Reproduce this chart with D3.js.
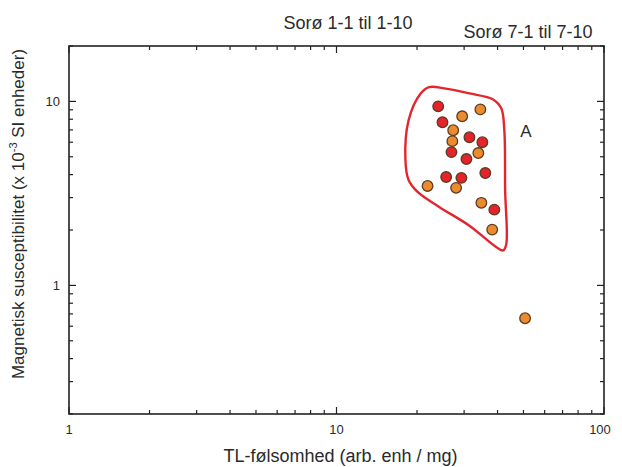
<!DOCTYPE html>
<html>
<head>
<meta charset="utf-8">
<script src="https://cdn.jsdelivr.net/npm/d3@7"></script>
<style>
  body { margin: 0; background: #fff; }
  text { font-family: "Liberation Sans", Arial, sans-serif; fill: #2a2a2a; }
</style>
</head>
<body>
<div id="chart"></div>
<script>
// data (TL sensitivity, magnetic susceptibility)
var seriesNames = ["Sorø 1-1 til 1-10", "Sorø 7-1 til 7-10"];
var redX = [24.0, 24.9, 31.4, 35.1, 26.9, 30.6, 25.7, 29.3, 36.0, 38.9];
var redY = [9.4, 7.7, 6.39, 6.0, 5.3, 4.86, 3.88, 3.84, 4.08, 2.58];
var orangeX = [34.5, 29.5, 27.3, 27.1, 33.9, 21.9, 28.0, 34.8, 38.2, 50.7];
var orangeY = [9.05, 8.3, 6.97, 6.08, 5.24, 3.47, 3.39, 2.81, 2.01, 0.663];
// outline of group A
var outlineX = [22.2, 25.3, 31.4, 38.5, 41.3, 42.4, 42.7, 43.1, 42.0, 39.9, 31.4, 24.2, 20.1, 18.6, 18.1, 18.6, 20.6];
var outlineY = [11.95, 11.76, 11.05, 10.25, 9.17, 6.97, 3.3, 1.67, 1.55, 1.6, 2.11, 2.67, 3.22, 3.74, 4.8, 7.89, 11.0];
var xTickLabels = [1, 10, 100];
var yTickLabels = [1, 10];

var W = 622, H = 467;
var margin = {left: 69, right: 18, top: 46, bottom: 53};

var svg = d3.select("#chart")
  .append("svg")
  .attr("width", W)
  .attr("height", H);

var x = d3.scaleLog()
  .domain([1, 100])
  .range([margin.left, W - margin.right]);

var y = d3.scaleLog()
  .domain([0.2, 20])
  .range([H - margin.bottom, margin.top]);

// tick values on log scale: every integer step in each decade
function logTicks(lo, hi) {
  var t = [];
  for (var d = 0.1; d <= 100; d *= 10) {
    for (var k = 1; k <= 9; k++) {
      var v = +(k * d).toPrecision(3);
      if (v >= lo - 1e-9 && v <= hi + 1e-9) t.push(v);
    }
  }
  return t;
}
var xTicks = logTicks(1, 100);
var yTicks = logTicks(0.2, 20);
function isMajor(v) { return Math.abs(Math.log10(v) - Math.round(Math.log10(v))) < 1e-6; }

var frame = svg.append("g").attr("class", "frame");

// ticks inward on all four sides
var x0 = x.range()[0], x1 = x.range()[1];
var y0 = y.range()[0], y1 = y.range()[1];

frame.selectAll(".xtb").data(xTicks).enter().append("line")
  .attr("x1", d => x(d)).attr("x2", d => x(d))
  .attr("y1", y0).attr("y2", d => y0 - (isMajor(d) ? 7 : 4));
frame.selectAll(".xtt").data(xTicks).enter().append("line")
  .attr("x1", d => x(d)).attr("x2", d => x(d))
  .attr("y1", y1).attr("y2", d => y1 + (isMajor(d) ? 7 : 4));
frame.selectAll(".ytl").data(yTicks).enter().append("line")
  .attr("y1", d => y(d)).attr("y2", d => y(d))
  .attr("x1", x0).attr("x2", d => x0 + (isMajor(d) ? 7 : 4));
frame.selectAll(".ytr").data(yTicks).enter().append("line")
  .attr("y1", d => y(d)).attr("y2", d => y(d))
  .attr("x1", x1).attr("x2", d => x1 - (isMajor(d) ? 7 : 4));
frame.selectAll("line")
  .attr("stroke", "#222")
  .attr("stroke-width", 1.2);

frame.append("rect")
  .attr("x", x0).attr("y", y1)
  .attr("width", x1 - x0).attr("height", y0 - y1)
  .attr("fill", "none")
  .attr("stroke", "#222")
  .attr("stroke-width", 1.6);

// tick labels
svg.selectAll(".xlab").data(xTickLabels).enter().append("text")
  .attr("x", d => x(d) + (d === 100 ? -4 : 0))
  .attr("y", y0 + 20)
  .attr("text-anchor", "middle")
  .attr("font-size", 13)
  .text(d => d);

svg.selectAll(".ylab").data(yTickLabels).enter().append("text")
  .attr("x", x0 - 9)
  .attr("y", d => y(d) + 5)
  .attr("text-anchor", "end")
  .attr("font-size", 13)
  .text(d => d);

// axis titles
svg.append("text")
  .attr("x", (x0 + x1) / 2 + 4)
  .attr("y", H - 5)
  .attr("text-anchor", "middle")
  .attr("font-size", 18)
  .text("TL-følsomhed (arb. enh / mg)");

var yt = svg.append("text")
  .attr("transform", "translate(24," + ((y0 + y1) / 2 - 16) + ") rotate(-90)")
  .attr("text-anchor", "middle")
  .attr("font-size", 17);
yt.append("tspan").text("Magnetisk susceptibilitet (x 10");
yt.append("tspan").attr("dy", -7).attr("font-size", 11).text("-3");
yt.append("tspan").attr("dy", 7).text(" SI enheder)");

// series titles at top
svg.append("text")
  .attr("x", 348).attr("y", 29)
  .attr("text-anchor", "middle")
  .attr("font-size", 18)
  .text(seriesNames[0]);
svg.append("text")
  .attr("x", 528).attr("y", 38)
  .attr("text-anchor", "middle")
  .attr("font-size", 18)
  .text(seriesNames[1]);

// outline around group A
var outline = d3.zip(outlineX, outlineY);
svg.append("path")
  .datum(outline)
  .attr("d", d3.line()
    .x(d => x(d[0]))
    .y(d => y(d[1]))
    .curve(d3.curveCatmullRomClosed.alpha(0.5)))
  .attr("fill", "none")
  .attr("stroke", "#e3262d")
  .attr("stroke-width", 2.4);

svg.append("text")
  .attr("x", 526).attr("y", 137)
  .attr("text-anchor", "middle")
  .attr("font-size", 17)
  .text("A");

// points
function drawPoints(xs, ys, fill) {
  svg.append("g").selectAll("circle")
    .data(d3.zip(xs, ys))
    .enter().append("circle")
    .attr("cx", d => x(d[0]))
    .attr("cy", d => y(d[1]))
    .attr("r", 5.3)
    .attr("fill", fill)
    .attr("stroke", "#5b3b22")
    .attr("stroke-width", 1.3);
}
drawPoints(redX, redY, "#e4232b");
drawPoints(orangeX, orangeY, "#ec8b2e");
</script>
</body>
</html>
